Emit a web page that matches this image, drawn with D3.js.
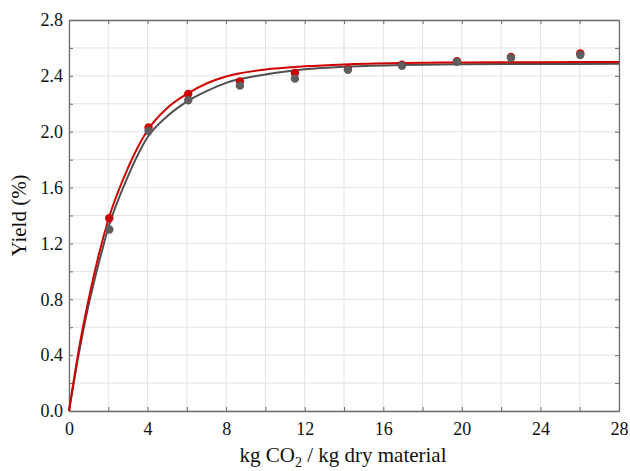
<!DOCTYPE html>
<html>
<head>
<meta charset="utf-8">
<script src="https://cdn.jsdelivr.net/npm/d3@7"></script>
<style>
  html, body { margin: 0; padding: 0; background: #fff; }
  svg { display: block; }
  svg text { font-family: "Liberation Serif", "DejaVu Serif", serif !important; fill: #111; }
</style>
</head>
<body>
<svg id="chart" width="630" height="471"></svg>
<script>
// Solvent ratio (kg CO2 / kg dry material) and extraction yield (%)
const xMeasured = [2.05, 4.05, 6.07, 8.7, 11.5, 14.2, 16.95, 19.75, 22.5, 26.03];
const yieldRed  = [1.38, 2.03, 2.27, 2.36, 2.42, 2.45, 2.48, 2.505, 2.535, 2.56];
const yieldGray = [1.30, 2.005, 2.225, 2.33, 2.38, 2.443, 2.472, 2.50, 2.529, 2.55];

// Fitted model curves
const xFit      = [0, 0.5, 1, 1.5, 2, 3, 4, 5, 6, 7, 8, 10, 12, 14, 17, 20, 24, 28];
const fitRed    = [0, 0.44, 0.80, 1.11, 1.37, 1.74, 2.01, 2.17, 2.27, 2.345, 2.395, 2.445, 2.468, 2.482, 2.492, 2.496, 2.498, 2.50];
const fitGray   = [0, 0.41, 0.76, 1.05, 1.31, 1.68, 1.96, 2.11, 2.215, 2.29, 2.35, 2.41, 2.447, 2.466, 2.478, 2.483, 2.485, 2.486];

const xTicks = [0, 4, 8, 12, 16, 20, 24, 28];
const yTicks = [0.0, 0.4, 0.8, 1.2, 1.6, 2.0, 2.4, 2.8];
const xMinor = d3.range(0, 28.01, 2);
const yMinor = d3.range(0, 2.801, 0.2);

const svg = d3.select("#chart");
const plotLeft = 69, plotRight = 619, plotTop = 20, plotBottom = 411;
const serif = "'Liberation Serif', 'DejaVu Serif', serif";

const x = d3.scaleLinear().domain([0, 28]).range([plotLeft, plotRight]);
const y = d3.scaleLinear().domain([0, 2.8]).range([plotBottom, plotTop]);

// grid
const grid = svg.append("g");
grid.selectAll("line.gx").data(xMinor).join("line")
  .attr("x1", d => x(d)).attr("x2", d => x(d))
  .attr("y1", plotTop).attr("y2", plotBottom)
  .attr("stroke", "#e3e3e3").attr("stroke-width", 1);
grid.selectAll("line.gy").data(yMinor).join("line")
  .attr("x1", plotLeft).attr("x2", plotRight)
  .attr("y1", d => y(d)).attr("y2", d => y(d))
  .attr("stroke", "#e3e3e3").attr("stroke-width", 1);

// axes with inward ticks on all four sides
const axisColor = "#6e6e6e";
function styleAxis(g) {
  g.attr("font-family", null).attr("font-size", null);
  g.select(".domain").attr("stroke", axisColor).attr("stroke-width", 1.3);
  g.selectAll(".tick line").attr("stroke", axisColor);
  g.selectAll(".tick text").style("font-family", serif)
    .style("font-size", "18px").attr("fill", "#111");
}
const xAxis = svg.append("g").attr("transform", `translate(0,${plotBottom})`)
  .call(d3.axisBottom(x).tickValues(xMinor).tickSize(-4).tickSizeOuter(0)
    .tickFormat(d => xTicks.includes(d) ? d3.format("d")(d) : ""))
  .call(styleAxis);
xAxis.selectAll(".tick text").attr("y", 8).attr("dy", "0.9em");

const yAxis = svg.append("g").attr("transform", `translate(${plotLeft},0)`)
  .call(d3.axisLeft(y).tickValues(yMinor).tickSize(-4).tickSizeOuter(0)
    .tickFormat(d => yTicks.some(t => Math.abs(t - d) < 1e-6) ? d3.format(".1f")(d) : ""))
  .call(styleAxis);
yAxis.selectAll(".tick text").attr("x", -6);

svg.append("g").attr("transform", `translate(0,${plotTop})`)
  .call(d3.axisTop(x).tickValues(xMinor).tickSize(-4).tickSizeOuter(0).tickFormat(""))
  .call(styleAxis);
svg.append("g").attr("transform", `translate(${plotRight},0)`)
  .call(d3.axisRight(y).tickValues(yMinor).tickSize(-4).tickSizeOuter(0).tickFormat(""))
  .call(styleAxis);

// fitted curves
const line = d3.line().curve(d3.curveMonotoneX);
svg.append("path")
  .attr("d", line(xFit.map((v, i) => [x(v), y(fitGray[i])])))
  .attr("fill", "none").attr("stroke", "#505050").attr("stroke-width", 2);
svg.append("path")
  .attr("d", line(xFit.map((v, i) => [x(v), y(fitRed[i])])))
  .attr("fill", "none").attr("stroke", "#d00000").attr("stroke-width", 2);

// measured points
svg.append("g").selectAll("circle").data(xMeasured).join("circle")
  .attr("cx", d => x(d)).attr("cy", (d, i) => y(yieldRed[i]))
  .attr("r", 4.2).attr("fill", "#cc0000");
svg.append("g").selectAll("circle").data(xMeasured).join("circle")
  .attr("cx", d => x(d)).attr("cy", (d, i) => y(yieldGray[i]))
  .attr("r", 4.2).attr("fill", "#5e5e5e");

// axis titles
const xt = svg.append("text")
  .attr("x", (plotLeft + plotRight) / 2 - 1).attr("y", 462)
  .attr("text-anchor", "middle").style("font-family", serif).style("font-size", "21px");
xt.append("tspan").text("kg CO");
xt.append("tspan").style("font-size", "14px").attr("dy", 5).text("2");
xt.append("tspan").attr("dy", -5).text(" / kg dry material");

svg.append("text")
  .attr("transform", `translate(26,${(plotTop + plotBottom) / 2}) rotate(-90)`)
  .attr("text-anchor", "middle").style("font-family", serif).style("font-size", "21px")
  .text("Yield (%)");
</script>
</body>
</html>
